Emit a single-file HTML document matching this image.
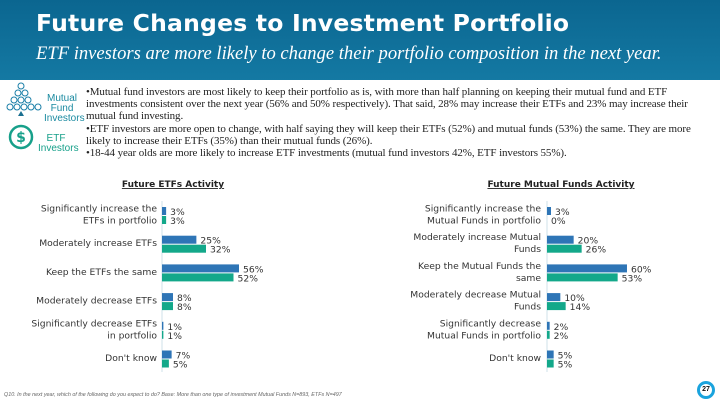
<!DOCTYPE html>
<html><head><meta charset="utf-8"><style>
body{margin:0;width:720px;height:405px;overflow:hidden;background:#fff;font-family:"Liberation Sans","DejaVu Sans",sans-serif;position:relative}
#hdr{position:absolute;left:0;top:0;width:720px;height:80px;background:linear-gradient(180deg,#0b6690,#1479a3)}
#title{position:absolute;left:36px;top:9px;color:#fff;font:bold 23.5px "DejaVu Sans",sans-serif;letter-spacing:0.2px}
#sub{position:absolute;left:36px;top:43px;color:#fff;font:italic 18.6px "Liberation Serif",serif}
#bul{position:absolute;left:86px;top:86px;width:626px;font:11px/12.2px "Liberation Serif",serif;color:#222;letter-spacing:-0.1px}
.ic{position:absolute;font-size:10px;color:#1a8aa0;text-align:center;line-height:10px}
svg text{font-family:"DejaVu Sans",sans-serif}
</style></head><body>
<div id="hdr">
<div id="title">Future Changes to Investment Portfolio</div>
<div id="sub">ETF investors are more likely to change their portfolio composition in the next year.</div>
</div>
<svg style="position:absolute;left:4px;top:82px" width="40" height="76">
<g fill="none" stroke="#1a7fa8" stroke-width="1"><circle cx="17" cy="4" r="3"/><circle cx="14" cy="11" r="3"/><circle cx="21" cy="11" r="3"/><circle cx="10" cy="18" r="3"/><circle cx="17" cy="18" r="3"/><circle cx="24" cy="18" r="3"/><circle cx="6" cy="25" r="3"/><circle cx="13" cy="25" r="3"/><circle cx="20" cy="25" r="3"/><circle cx="27" cy="25" r="3"/><circle cx="34" cy="25" r="3"/></g>
<path d="M17 29 l3 5 h-6z" fill="#1a6f90"/>
<g fill="none" stroke="#17a08a" stroke-width="2.5"><circle cx="17" cy="55" r="11"/></g>
<text x="17" y="60" font-size="14" fill="#17a08a" text-anchor="middle" font-weight="bold">$</text>
</svg>
<div class="ic" style="left:44px;top:94px;width:36px">Mutual<br>Fund<br>Investors</div>
<div class="ic" style="left:38px;top:134px;width:36px;color:#17a08a">ETF<br>Investors</div>
<div id="bul">•Mutual fund investors are most likely to keep their portfolio as is, with more than half planning on keeping their mutual fund and ETF investments consistent over the next year (56% and 50% respectively). That said, 28% may increase their ETFs and 23% may increase their mutual fund investing.<br>•ETF investors are more open to change, with half saying they will keep their ETFs (52%) and mutual funds (53%) the same. They are more likely to increase their ETFs (35%) than their mutual funds (26%).<br>•18-44 year olds are more likely to increase ETF investments (mutual fund investors 42%, ETF investors 55%).</div>
<svg id="ch" width="720" height="405" style="position:absolute;left:0;top:0"></svg>
<div style="position:absolute;left:4px;top:392px;font:italic 5.4px 'Liberation Sans',sans-serif;color:#666">Q10. In the next year, which of the following do you expect to do? Base: More than one type of investment Mutual Funds N=893, ETFs N=497</div>
<div style="position:absolute;left:697px;top:381px;width:12px;height:12px;border:3px solid #1aa3dd;border-radius:50%;font:bold 7px 'Liberation Sans',sans-serif;text-align:center;line-height:12px;color:#111">27</div>
<script>
const etfCats=[["Significantly increase the","ETFs in portfolio"],["Moderately increase ETFs"],["Keep the ETFs the same"],["Moderately decrease ETFs"],["Significantly decrease ETFs","in portfolio"],["Don't know"]];
const etfMF=[3,25,56,8,1,7];
const etfETF=[3,32,52,8,1,5];
const mfCats=[["Significantly increase the","Mutual Funds in portfolio"],["Moderately increase Mutual","Funds"],["Keep the Mutual Funds the","same"],["Moderately decrease Mutual","Funds"],["Significantly decrease","Mutual Funds in portfolio"],["Don't know"]];
const mfMF=[3,20,60,10,2,5];
const mfETF=[0,26,53,14,2,5];
const NS="http://www.w3.org/2000/svg";
const svg=document.getElementById('ch');
function mk(t,a){const e=document.createElementNS(NS,t);for(const k in a)e.setAttribute(k,a[k]);svg.appendChild(e);return e;}
function chart(title,tx,ax,scale,cats,s1,s2,lblRight){
 const t=mk('text',{x:tx,y:187,'font-size':9,'font-weight':'bold','text-decoration':'underline','text-anchor':'middle',fill:'#222'});t.textContent=title;
 
 
 const ln=mk('line',{x1:ax,x2:ax,y1:201,y2:372,stroke:'#cfe0ea','stroke-width':1});
 
 
 const x=v=>v*scale;
 cats.forEach((c,i)=>{
  const yc=215.5+i*28.7;
  const ys=c.length>1?[yc-4,yc+8]:[yc+2];
  c.forEach((line,j)=>{const l=mk('text',{x:lblRight,y:ys[j],'font-size':9.2,'text-anchor':'end',fill:'#333'});l.textContent=line;
   
   });
  [[s1[i],'#2e75b6',yc-8.5],[s2[i],'#13a88a',yc+0.5]].forEach(([v,col,y])=>{
   const r=mk('rect',{x:ax,y:y,width:Math.max(x(v),v>0?1:0),height:8,fill:col});
   
   
   const tl=mk('text',{x:ax+x(v)+4,y:y+8,'font-size':9.2,fill:'#333'});tl.textContent=v+'%';
   
   
  });
 });
}
chart('Future ETFs Activity',173,162,1.375,etfCats,etfMF,etfETF,157);
chart('Future Mutual Funds Activity',561,547,1.333,mfCats,mfMF,mfETF,541);
</script>
</body></html>
